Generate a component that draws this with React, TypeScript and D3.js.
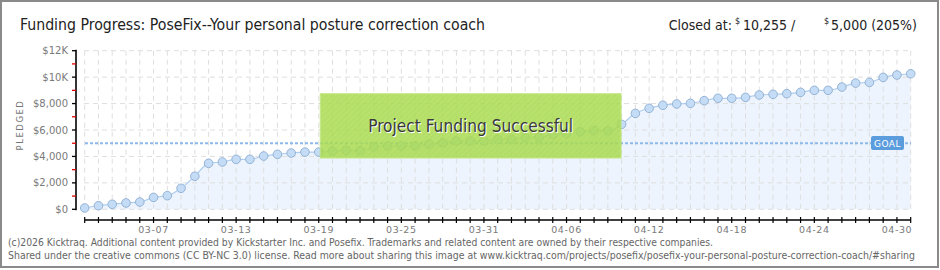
import React from 'react';
import * as d3 from 'd3';

const startDate = '2026-03-02';
const pledged = [
  100, 270, 380, 480, 550, 900, 1030, 1590, 2500, 3480,
  3580, 3780, 3780, 4030, 4160, 4260, 4330, 4330, 4410, 4450,
  4440, 4710, 4790, 4790, 4790, 4940, 5040, 5170, 5170, 5190,
  5290, 5290, 5450, 5450, 5670, 5720, 5870, 5950, 5950, 6430,
  7260, 7640, 7870, 7970, 8020, 8220, 8400, 8400, 8470, 8650,
  8700, 8750, 8850, 9000, 9000, 9250, 9550, 9600, 9980, 10160,
  10255,
];
const goal = 5000;
const xTickLabels = ['03-07', '03-13', '03-19', '03-25', '03-31', '04-06', '04-12', '04-18', '04-24', '04-30'];
const yTickValues = [0, 2000, 4000, 6000, 8000, 10000, 12000];
const yTickLabels = ['$0', '$2,000', '$4,000', '$6,000', '$8,000', '$10K', '$12K'];
const yMinorTicks = [1000, 3000, 5000, 7000, 9000, 11000];
const titleText = 'Funding Progress: PoseFix--Your personal posture correction coach';
const closedLabel = 'Closed at:';
const closedAmount = '10,255 /';
const goalAmount = '5,000 (205%)';
const footer1 = '(c)2026 Kicktraq. Additional content provided by Kickstarter Inc. and Posefix. Trademarks and related content are owned by their respective companies.';
const footer2 = 'Shared under the creative commons (CC BY-NC 3.0) license. Read more about sharing this image at www.kicktraq.com/projects/posefix/posefix-your-personal-posture-correction-coach/#sharing';
const successText = 'Project Funding Successful';

export default function App() {
  const W = 940;
  const H = 270;
  const parse = d3.utcParse('%Y-%m-%d');
  const start = parse(startDate) as Date;
  const dates = pledged.map((_, i) => d3.utcDay.offset(start, i));
  const x = d3.scaleUtc().domain([dates[0], dates[dates.length - 1]]).range([84.7, 910.7]);
  const y = d3.scaleLinear().domain([0, 12000]).range([209.3, 50.7]);
  const line = d3.line<number>().x((_, i) => x(dates[i])).y((d) => y(d)).curve(d3.curveMonotoneX);
  const area = d3.area<number>().x((_, i) => x(dates[i])).y0(y(0)).y1((d) => y(d)).curve(d3.curveMonotoneX);
  const plotLeft = 76;
  const plotRight = 911;
  const axisY = 220;
  const narrow = "'Liberation Sans Narrow', 'DejaVu Sans Condensed', 'Roboto', sans-serif";
  const pix = "'DejaVu Sans', sans-serif";

  const boxX0 = x(parse('2026-03-19') as Date) + 1.5;
  const boxX1 = x(parse('2026-04-10') as Date) - 0.5;
  const boxY0 = y(8750);
  const boxY1 = y(3880);

  return (
    <svg width={W} height={H} style={{ position: 'absolute', left: 0, top: 0, background: '#fff' }}>
      <defs>
        <pattern id="hatch" width="4" height="4" patternUnits="userSpaceOnUse" patternTransform="rotate(45)">
          <rect width="4" height="4" fill="#a8da4e" />
          <line x1="0" y1="0" x2="0" y2="4" stroke="#b2e05c" strokeWidth="1.5" />
        </pattern>
      </defs>
      <rect x={1} y={1} width={937} height={266} fill="#fff" stroke="#8a8a8a" strokeWidth={2} />

      <text x={20} y={30} fontFamily={narrow} fontSize={16} fill="#222" textLength={465} lengthAdjust="spacingAndGlyphs">
        {titleText}
      </text>
      <text x={732} y={30} textAnchor="end" fontFamily={narrow} fontSize={14} fill="#222">
        {closedLabel}
      </text>
      <text x={735} y={24} fontFamily={narrow} fontSize={9} fill="#222">$</text>
      <text x={743} y={30} fontFamily={narrow} fontSize={14} fill="#222">
        {closedAmount}
      </text>
      <text x={824} y={24} fontFamily={narrow} fontSize={9} fill="#222">$</text>
      <text x={917} y={30} textAnchor="end" fontFamily={narrow} fontSize={14} fill="#222">
        {goalAmount}
      </text>

      {/* area */}
      <path d={area(pledged) || ''} fill="#edf4fd" />

      {/* grid */}
      {dates.map((d, i) => (
        <line key={'vg' + i} x1={x(d)} x2={x(d)} y1={y(12000)} y2={y(0)} stroke="#dedede" strokeDasharray="5,4" strokeWidth={1} />
      ))}
      {yTickValues.map((v) => (
        <line key={'hg' + v} x1={plotLeft + 8} x2={plotRight} y1={y(v)} y2={y(v)} stroke="#dedede" strokeDasharray="5,4" strokeWidth={1} />
      ))}

      {/* goal line */}
      <line x1={85} x2={plotRight} y1={y(goal)} y2={y(goal)} stroke="#8cb9ea" strokeWidth={2} strokeDasharray="3,2" />

      {/* line and points */}
      <path d={line(pledged) || ''} fill="none" stroke="#aecdf0" strokeWidth={1.2} />
      {pledged.map((v, i) => (
        <circle key={'p' + i} cx={x(dates[i])} cy={y(v)} r={4.3} fill="#c4dcf6" stroke="#95b3d4" strokeWidth={1} />
      ))}

      {/* y axis */}
      <line x1={plotLeft} x2={plotLeft} y1={y(12000) - 1} y2={y(0) + 1} stroke="#000" strokeWidth={1.6} />
      {yTickValues.map((v, i) => (
        <g key={'yt' + v}>
          <line x1={plotLeft - 4} x2={plotLeft} y1={y(v)} y2={y(v)} stroke="#000" strokeWidth={1.3} />
          <text x={68} y={y(v)} dy="0.35em" textAnchor="end" fontFamily={pix} fontSize={10} fill="#7a7a7a">
            {yTickLabels[i]}
          </text>
        </g>
      ))}
      {yMinorTicks.map((v) => (
        <line key={'ym' + v} x1={plotLeft - 4} x2={plotLeft} y1={y(v)} y2={y(v)} stroke="#e00000" strokeWidth={1.3} />
      ))}
      <text
        transform={`translate(23, ${125}) rotate(-90)`}
        textAnchor="middle"
        fontFamily={pix}
        fontSize={8.5}
        letterSpacing={1.5}
        fill="#777"
      >
        PLEDGED
      </text>

      {/* x axis */}
      <line x1={x(dates[0])} x2={plotRight} y1={axisY} y2={axisY} stroke="#000" strokeWidth={1.5} />
      {dates.map((d, i) => (
        <line key={'xt' + i} x1={x(d)} x2={x(d)} y1={axisY - 3} y2={axisY + 3} stroke="#000" strokeWidth={1.2} />
      ))}
      {xTickLabels.map((l) => {
        const d = parse('2026-' + l) as Date;
        return (
          <text key={'xl' + l} x={x(d)} y={233} textAnchor="middle" fontFamily={pix} fontSize={9.5} letterSpacing={0.6} fill="#7a7a7a">
            {l}
          </text>
        );
      })}

      {/* success box */}
      <rect x={boxX0} y={boxY0} width={boxX1 - boxX0} height={boxY1 - boxY0} fill="url(#hatch)" opacity={0.85} stroke="#bde577" strokeWidth={1} />
      <text x={(boxX0 + boxX1) / 2 + 1} y={133} textAnchor="middle" fontFamily={narrow} fontSize={18} fill="#fff" textLength={205} lengthAdjust="spacingAndGlyphs">
        {successText}
      </text>
      <text x={(boxX0 + boxX1) / 2} y={132} textAnchor="middle" fontFamily={narrow} fontSize={18} fill="#3a3a3a" textLength={205} lengthAdjust="spacingAndGlyphs">
        {successText}
      </text>

      {/* goal label */}
      <rect x={871} y={136} width={33} height={14} rx={2} fill="#5b9cdc" />
      <text x={887.5} y={146.5} textAnchor="middle" fontFamily={pix} fontSize={9} fill="#fff" letterSpacing={0.5}>
        GOAL
      </text>

      {/* footer */}
      <text x={8} y={246} fontFamily={narrow} fontSize={10.5} fill="#666" textLength={705} lengthAdjust="spacingAndGlyphs">
        {footer1}
      </text>
      <text x={8} y={259} fontFamily={narrow} fontSize={10.5} fill="#666" textLength={907} lengthAdjust="spacingAndGlyphs">
        {footer2}
      </text>
    </svg>
  );
}
